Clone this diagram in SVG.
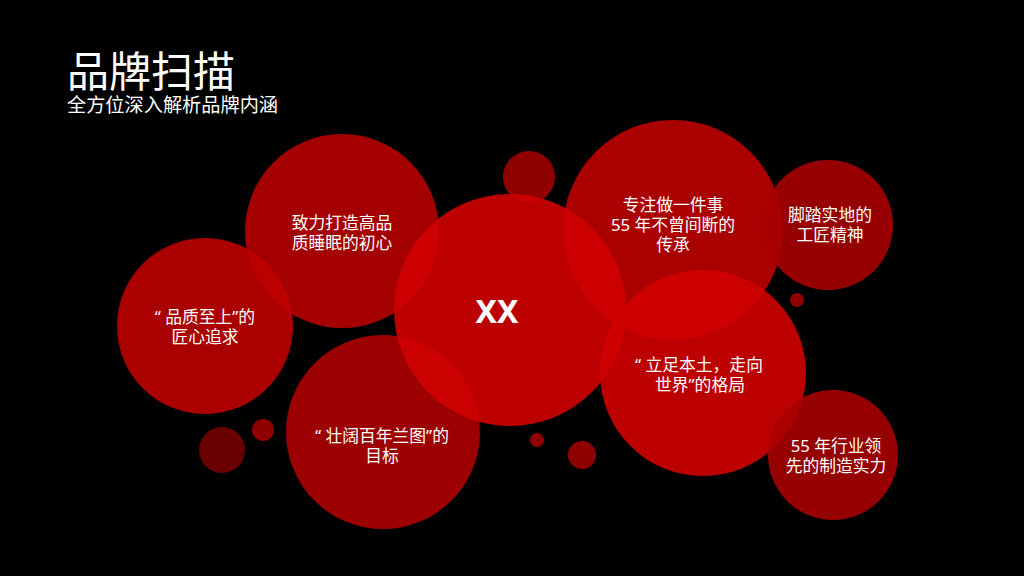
<svg xmlns="http://www.w3.org/2000/svg" width="1024" height="576" viewBox="0 0 1024 576">
<style>
.t{font-family:"Noto Sans","Noto Sans CJK SC",sans-serif;fill:#fff;text-anchor:middle;font-size:16.8px}
.c{fill-opacity:0.9}
</style>
<rect width="1024" height="576" fill="#000"/>
<g id="title">
<text x="67" y="87" font-family="Noto Sans CJK SC, sans-serif" font-size="42" fill="#fff">品牌扫描</text>
<text x="67" y="112" font-family="Noto Sans CJK SC, sans-serif" font-size="19.2" fill="#fff">全方位深入解析品牌内涵</text>
</g>
<g id="dots">
<circle cx="529" cy="177" r="26" fill="#9f0000" class="c"/>
<circle cx="222" cy="450" r="23" fill="#770000" class="c"/>
<circle cx="263" cy="430" r="11" fill="#9f0000" class="c"/>
<circle cx="537" cy="440" r="7" fill="#9f0000" class="c"/>
<circle cx="582" cy="455" r="14" fill="#9f0000" class="c"/>
<circle cx="797" cy="300" r="7" fill="#9f0000" class="c"/>
</g>
<g id="n-zhili">
<circle cx="342" cy="231" r="97" fill="#b70000" class="c"/>
<text class="t"><tspan x="342" y="229">致力打造高品</tspan><tspan x="342" y="249">质睡眠的初心</tspan></text>
</g>
<g id="n-pinzhi">
<circle cx="205" cy="326" r="88" fill="#be0000" class="c"/>
<text class="t" xml:space="preserve"><tspan x="205" y="323">“ 品质至上”的</tspan><tspan x="205" y="343">匠心追求</tspan></text>
</g>
<g id="n-zhuangkuo">
<circle cx="383" cy="432" r="97" fill="#ad0000" class="c"/>
<text class="t" xml:space="preserve"><tspan x="382" y="442">“ 壮阔百年兰图”的</tspan><tspan x="382" y="462">目标</tspan></text>
</g>
<g id="n-zhuanzhu">
<circle cx="673" cy="230" r="110" fill="#bc0000" class="c"/>
<text class="t"><tspan x="673" y="211">专注做一件事</tspan><tspan x="673" y="231">55 年不曾间断的</tspan><tspan x="673" y="251">传承</tspan></text>
</g>
<g id="n-xx">
<circle cx="510" cy="310" r="116" fill="#d00000" class="c"/>
<text x="497" y="323" font-family="Noto Sans, DejaVu Sans, sans-serif" font-weight="bold" font-size="32" fill="#fff" text-anchor="middle">XX</text>
</g>
<g id="n-jiaota">
<circle cx="828" cy="225" r="65" fill="#a70000" class="c"/>
<text class="t"><tspan x="830" y="221">脚踏实地的</tspan><tspan x="830" y="241">工匠精神</tspan></text>
</g>
<g id="n-lizu">
<circle cx="703" cy="373" r="103" fill="#d00000" class="c"/>
<text class="t" xml:space="preserve"><tspan x="699" y="371">“ 立足本土，走向</tspan><tspan x="700" y="391">世界”的格局</tspan></text>
</g>
<g id="n-55">
<circle cx="833" cy="455" r="65" fill="#a70000" class="c"/>
<text class="t"><tspan x="836" y="452">55 年行业领</tspan><tspan x="836" y="472">先的制造实力</tspan></text>
</g>
<g id="connectors"/>
</svg>
